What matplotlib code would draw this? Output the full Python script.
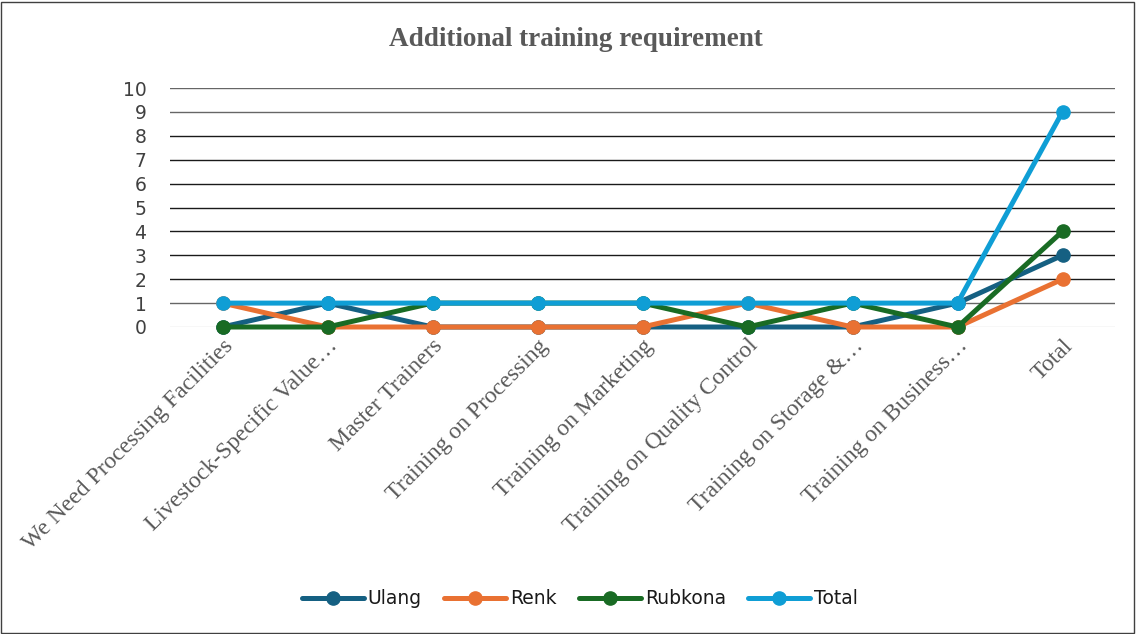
import matplotlib
matplotlib.use("Agg")
import matplotlib.pyplot as plt
from matplotlib.patches import Rectangle

categories = ["We Need Processing Facilities", "Livestock-Specific Value…", "Master Trainers",
              "Training on Processing", "Training on Marketing", "Training on Quality Control",
              "Training on Storage &…", "Training on Business…", "Total"]
ulang = [0, 1, 0, 0, 0, 0, 0, 1, 3]
renk = [1, 0, 0, 0, 0, 1, 0, 0, 2]
rubkona = [0, 0, 1, 1, 1, 0, 1, 0, 4]
total = [1, 1, 1, 1, 1, 1, 1, 1, 9]
series_names = ["Ulang", "Renk", "Rubkona", "Total"]
series_values = [ulang, renk, rubkona, total]
colors = ["#156082", "#E97132", "#196B24", "#0F9ED5"]
yticks = list(range(0, 11))

fig = plt.figure(figsize=(11.36, 6.34), dpi=100)
ax = fig.add_axes([170/1136, 1-327/634, 945/1136, 239/634])

x = list(range(len(categories)))
for name, vals, c in zip(series_names, series_values, colors):
    ax.plot(x, vals, color=c, lw=3.6, marker="o", markersize=9.5,
            solid_capstyle="round", label=name, zorder=3, clip_on=False)

ax.set_xlim(-0.5, len(categories) - 0.5)
ax.set_ylim(0, 10)
ax.set_yticks(yticks)
ax.set_yticklabels([str(v) for v in yticks], fontsize=13.5, color="#404040",
                   family=["DejaVu Sans"])
for t in yticks:
    if t == 0:
        col = "#d9d9d9"
    elif t in (1, 9, 10):
        col = "#666666"
    else:
        col = "#1a1a1a"
    ax.axhline(t, color=col, lw=1.0, zorder=1)
ax.tick_params(axis="y", length=0, pad=17)
ax.tick_params(axis="x", length=0, pad=6)
ax.set_xticks(x)
ax.set_xticklabels(categories, rotation=45, ha="right", rotation_mode="anchor",
                   fontsize=17, color="#595959", family=["Liberation Serif", "DejaVu Serif"])
for s in ax.spines.values():
    s.set_visible(False)

fig.text(576/1136, 1-40/634, "Additional training requirement", ha="center", va="center",
         fontsize=19.5, fontweight="bold", color="#595959",
         family=["Liberation Serif", "DejaVu Serif"])

leg = fig.legend(loc="center", bbox_to_anchor=(580/1136, 1-599/634), ncol=4, frameon=False,
                 fontsize=13.5, handlelength=3.3, columnspacing=1.2, handletextpad=0.2)
for txt in leg.get_texts():
    txt.set_color("#1a1a1a")

fig.patches.append(Rectangle((1/1136, 1/634), 1133/1136, 631/634, transform=fig.transFigure,
                             fill=False, edgecolor="#404040", lw=1.0))

fig.savefig("out.png", dpi=100, facecolor="white")
